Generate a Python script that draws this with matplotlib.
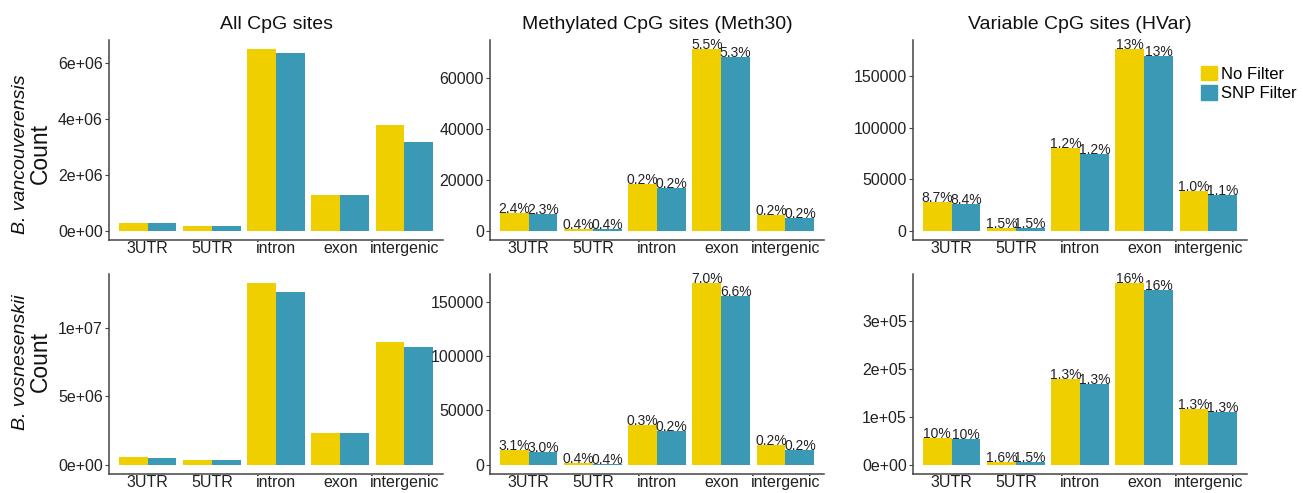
import numpy as np
import matplotlib
matplotlib.use("Agg")
import matplotlib.pyplot as plt
from matplotlib.patches import Patch

plt.rcParams['font.family'] = ['Liberation Sans', 'DejaVu Sans']

regions = ["3UTR", "5UTR", "intron", "exon", "intergenic"]
col_titles = ["All CpG sites", "Methylated CpG sites (Meth30)", "Variable CpG sites (HVar)"]
species = ["B. vancouverensis", "B. vosnesenskii"]

# B. vancouverensis
vanc_all_nofilt = [0.28e6, 0.18e6, 6.48e6, 1.28e6, 3.78e6]
vanc_all_snp = [0.28e6, 0.18e6, 6.34e6, 1.28e6, 3.16e6]
vanc_meth_nofilt = [7200, 900, 18400, 71300, 6300]
vanc_meth_snp = [6500, 600, 16700, 68200, 5200]
vanc_meth_nofilt_pct = ["2.4%", "0.4%", "0.2%", "5.5%", "0.2%"]
vanc_meth_snp_pct = ["2.3%", "0.4%", "0.2%", "5.3%", "0.2%"]
vanc_hvar_nofilt = [27800, 3200, 80400, 176000, 38300]
vanc_hvar_snp = [26500, 2500, 74400, 169000, 35100]
vanc_hvar_nofilt_pct = ["8.7%", "1.5%", "1.2%", "13%", "1.0%"]
vanc_hvar_snp_pct = ["8.4%", "1.5%", "1.2%", "13%", "1.1%"]

# B. vosnesenskii
vosn_all_nofilt = [0.56e6, 0.34e6, 13.26e6, 2.36e6, 8.94e6]
vosn_all_snp = [0.48e6, 0.34e6, 12.61e6, 2.36e6, 8.58e6]
vosn_meth_nofilt = [13900, 1500, 37100, 167000, 18000]
vosn_meth_snp = [12000, 1000, 31500, 155000, 13500]
vosn_meth_nofilt_pct = ["3.1%", "0.4%", "0.3%", "7.0%", "0.2%"]
vosn_meth_snp_pct = ["3.0%", "0.4%", "0.2%", "6.6%", "0.2%"]
vosn_hvar_nofilt = [56000, 7000, 180000, 379000, 116000]
vosn_hvar_snp = [54000, 5500, 169000, 365000, 110000]
vosn_hvar_nofilt_pct = ["10%", "1.6%", "1.3%", "16%", "1.3%"]
vosn_hvar_snp_pct = ["10%", "1.5%", "1.3%", "16%", "1.3%"]

yticks = [
    [[0, 2e6, 4e6, 6e6], ["0e+00", "2e+06", "4e+06", "6e+06"]],
    [[0, 20000, 40000, 60000], ["0", "20000", "40000", "60000"]],
    [[0, 50000, 100000, 150000], ["0", "50000", "100000", "150000"]],
    [[0, 5e6, 1e7], ["0e+00", "5e+06", "1e+07"]],
    [[0, 50000, 100000, 150000], ["0", "50000", "100000", "150000"]],
    [[0, 1e5, 2e5, 3e5], ["0e+00", "1e+05", "2e+05", "3e+05"]],
]

panels = [
    (vanc_all_nofilt, vanc_all_snp, None, None),
    (vanc_meth_nofilt, vanc_meth_snp, vanc_meth_nofilt_pct, vanc_meth_snp_pct),
    (vanc_hvar_nofilt, vanc_hvar_snp, vanc_hvar_nofilt_pct, vanc_hvar_snp_pct),
    (vosn_all_nofilt, vosn_all_snp, None, None),
    (vosn_meth_nofilt, vosn_meth_snp, vosn_meth_nofilt_pct, vosn_meth_snp_pct),
    (vosn_hvar_nofilt, vosn_hvar_snp, vosn_hvar_nofilt_pct, vosn_hvar_snp_pct),
]

YELLOW = "#EFCF00"
BLUE = "#3A9AB5"
W, H = 1303, 493

fig = plt.figure(figsize=(W / 100, H / 100), dpi=100)

lefts = [109, 490, 913]
tops = [40, 274]
pw, ph = 334, 200
x = np.arange(len(regions))
bw = 0.45

for i, (nf, snp, nf_pct, snp_pct) in enumerate(panels):
    r, c = divmod(i, 3)
    ax = fig.add_axes([lefts[c] / W, 1 - (tops[r] + ph) / H, pw / W, ph / H])
    ax.bar(x - bw / 2, nf, bw, color=YELLOW)
    ax.bar(x + bw / 2, snp, bw, color=BLUE)
    if nf_pct is not None:
        for j in range(len(regions)):
            ax.text(x[j] - bw / 2, nf[j], nf_pct[j], ha='center', va='baseline',
                    fontsize=10, color='#222222')
            ax.text(x[j] + bw / 2, snp[j], snp_pct[j], ha='center', va='baseline',
                    fontsize=10, color='#222222')
    top = max(max(nf), max(snp))
    ax.set_ylim(-0.05 * top, 1.05 * top)
    ax.set_xlim(-0.6, len(regions) - 0.4)
    ax.set_xticks(x)
    ax.set_xticklabels(regions, fontsize=11.5, color='#222222')
    ax.set_yticks(yticks[i][0])
    ax.set_yticklabels(yticks[i][1], fontsize=11.5, color='#222222')
    for s in ['top', 'right']:
        ax.spines[s].set_visible(False)
    for s in ['left', 'bottom']:
        ax.spines[s].set_color('#444444')
        ax.spines[s].set_linewidth(1.1)
    ax.tick_params(axis='y', length=3, width=0.8, color='#444444', pad=1.5)
    ax.tick_params(axis='x', length=0, pad=1)
    if r == 0:
        ax.set_title(col_titles[c], fontsize=14, pad=8, color='#111111')

# row labels
label_y = [154, 362]
for r in range(2):
    fig.text(21 / W, 1 - label_y[r] / H, species[r], rotation=90, ha='center',
             va='center', fontsize=14, style='italic', color='#111111')
    fig.text(40 / W, 1 - label_y[r] / H, "Count", rotation=90, ha='center',
             va='center', fontsize=16.5, color='#111111')

handles = [Patch(color=YELLOW, label="No Filter"), Patch(color=BLUE, label="SNP Filter")]
fig.legend(handles=handles, loc='upper left', bbox_to_anchor=(1201 / W, 1 - 66 / H),
           frameon=False, fontsize=12, handlelength=0.95, handleheight=0.95,
           handletextpad=0.25, labelspacing=0.2, borderaxespad=0, borderpad=0)

fig.savefig("out.png", dpi=100)
